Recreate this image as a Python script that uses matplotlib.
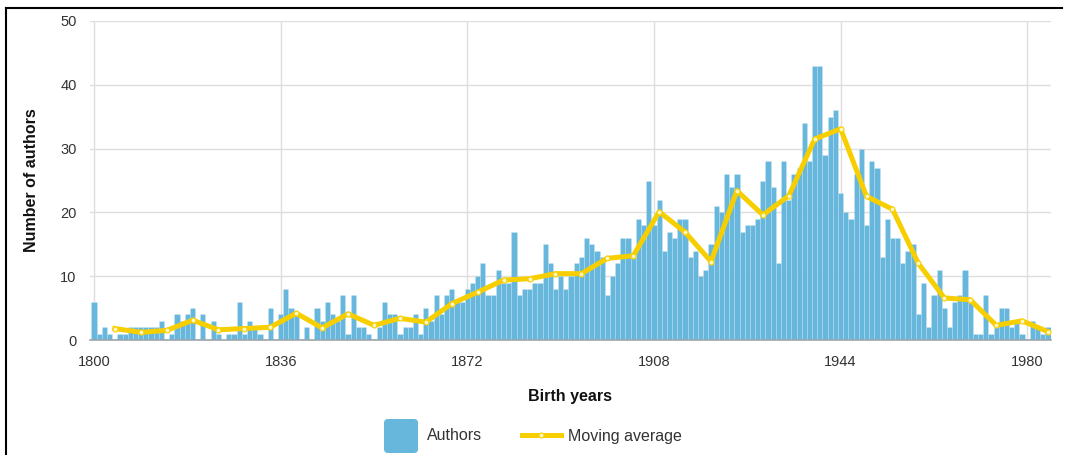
import numpy as np
import matplotlib
matplotlib.use("Agg")
import matplotlib.pyplot as plt
from matplotlib.patches import FancyBboxPatch
from matplotlib.lines import Line2D

plt.rcParams["font.family"] = ["Liberation Sans", "DejaVu Sans"]

# authors per birth year, 1800..1984
first_year = 1800
authors = [
    6, 1, 2, 1, 0, 1, 1, 2, 2, 2,        # 1800s
    2, 2, 2, 3, 0, 1, 4, 3, 4, 5,        # 1810s
    0, 4, 0, 3, 1, 0, 1, 1, 6, 1,        # 1820s
    3, 2, 1, 0, 5, 0, 4, 8, 5, 4,        # 1830s
    0, 2, 0, 5, 3, 6, 4, 3, 7, 1,        # 1840s
    7, 2, 2, 1, 0, 2, 6, 4, 4, 1,        # 1850s
    2, 2, 4, 1, 5, 3, 7, 4, 7, 8,        # 1860s
    6, 6, 8, 9, 10, 12, 7, 7, 11, 9,     # 1870s
    9, 17, 7, 8, 8, 9, 9, 15, 12, 8,     # 1880s
    10, 8, 10, 12, 13, 16, 15, 14, 13, 7,    # 1890s
    10, 12, 16, 16, 13, 19, 18, 25, 18, 22,  # 1900s
    14, 17, 16, 19, 19, 13, 14, 10, 11, 15,  # 1910s
    21, 20, 26, 24, 26, 17, 18, 18, 19, 25,  # 1920s
    28, 24, 12, 28, 22, 26, 27, 34, 28, 43,  # 1930s
    43, 29, 35, 36, 23, 20, 19, 26, 30, 18,  # 1940s
    28, 27, 13, 19, 16, 16, 12, 14, 15, 4,   # 1950s
    9, 2, 7, 11, 5, 2, 6, 7, 11, 6,          # 1960s
    1, 1, 7, 1, 2, 5, 5, 2, 3, 1,            # 1970s
    0, 3, 2, 1, 2,                           # 1980s
]
years = np.arange(first_year, first_year + len(authors))

# moving average, one point every 5 years
ma_years = list(range(1804, 1985, 5))
ma_values = [1.8, 1.2, 1.5, 3.1, 1.6, 1.8, 2.0, 4.2, 1.9, 4.1,
             2.3, 3.4, 2.8, 5.7, 7.5, 9.4, 9.6, 10.4, 10.4, 12.8,
             13.2, 20.1, 16.9, 12.3, 23.4, 19.6, 22.6, 31.5, 33.1, 22.5,
             20.5, 12.0, 6.6, 6.3, 2.3, 3.0, 1.3]

x_ticks = [1800, 1836, 1872, 1908, 1944, 1980]
y_ticks = [0, 10, 20, 30, 40, 50]

BAR = "#67b7dc"
LINE = "#f7cf00"
TXT = "#333333"
W, H = 1065, 455

fig = plt.figure(figsize=(W / 100, H / 100), dpi=100)
fig.patch.set_facecolor("white")

ax = fig.add_axes([90.4 / W, (H - 340) / H, (1050.6 - 90.4) / W, (340 - 21) / H])
ax.bar(years, authors, width=1.0, color=BAR, edgecolor=(1, 1, 1, 0.25),
       linewidth=0.4, zorder=2)
ax.plot(ma_years, ma_values, color=LINE, lw=3.6, marker="o", ms=3.6,
        mfc="#fff6c8", mec=LINE, mew=0.8, solid_joinstyle="round", zorder=4)

ax.set_xlim(1799.3, 1984.5)
ax.set_ylim(0, 50)
ax.set_xticks(x_ticks)
ax.set_yticks(y_ticks)
ax.grid(color="#dedede", lw=1, zorder=0)
ax.set_axisbelow(True)
for side in ("top", "right", "left"):
    ax.spines[side].set_visible(False)
ax.spines["bottom"].set_color("#9aa5ad")
ax.spines["bottom"].set_linewidth(1.2)
ax.spines["bottom"].set_zorder(5)
ax.tick_params(axis="both", length=0, labelsize=10.5, labelcolor=TXT)
ax.tick_params(axis="y", pad=10)
ax.tick_params(axis="x", pad=11)

ax.set_ylabel("Number of authors", fontsize=11.5, fontweight="bold", color="#111")
ax.yaxis.set_label_coords(-0.0535, 0.5)
ax.set_xlabel("Birth years", fontsize=11.5, fontweight="bold", color="#111")
ax.xaxis.set_label_coords(0.5, -0.155)

# overlay in pixel coordinates for legend and frame
lax = fig.add_axes([0, 0, 1, 1], zorder=10)
lax.set_xlim(0, W)
lax.set_ylim(H, 0)
lax.axis("off")
lax.patch.set_alpha(0)

lax.add_patch(FancyBboxPatch((384, 419), 34, 34,
                             boxstyle="round,pad=0,rounding_size=4",
                             facecolor=BAR, edgecolor="none"))
lax.text(427, 436, "Authors", fontsize=11.5, color=TXT, va="center", ha="left")
lax.add_line(Line2D([522, 561], [435, 435], color=LINE, lw=3.6))
lax.plot([541], [435], marker="o", ms=3.6, mfc="#fff6c8", mec=LINE, mew=0.8)
lax.text(568, 436, "Moving average", fontsize=11.5, color=TXT, va="center", ha="left")

# black frame of the screenshot
lax.add_line(Line2D([6, 1062], [8, 8], color="black", lw=1.5))
lax.add_line(Line2D([6, 6], [8, H], color="black", lw=1.5))

fig.savefig("out.png", dpi=100, facecolor=fig.get_facecolor())
